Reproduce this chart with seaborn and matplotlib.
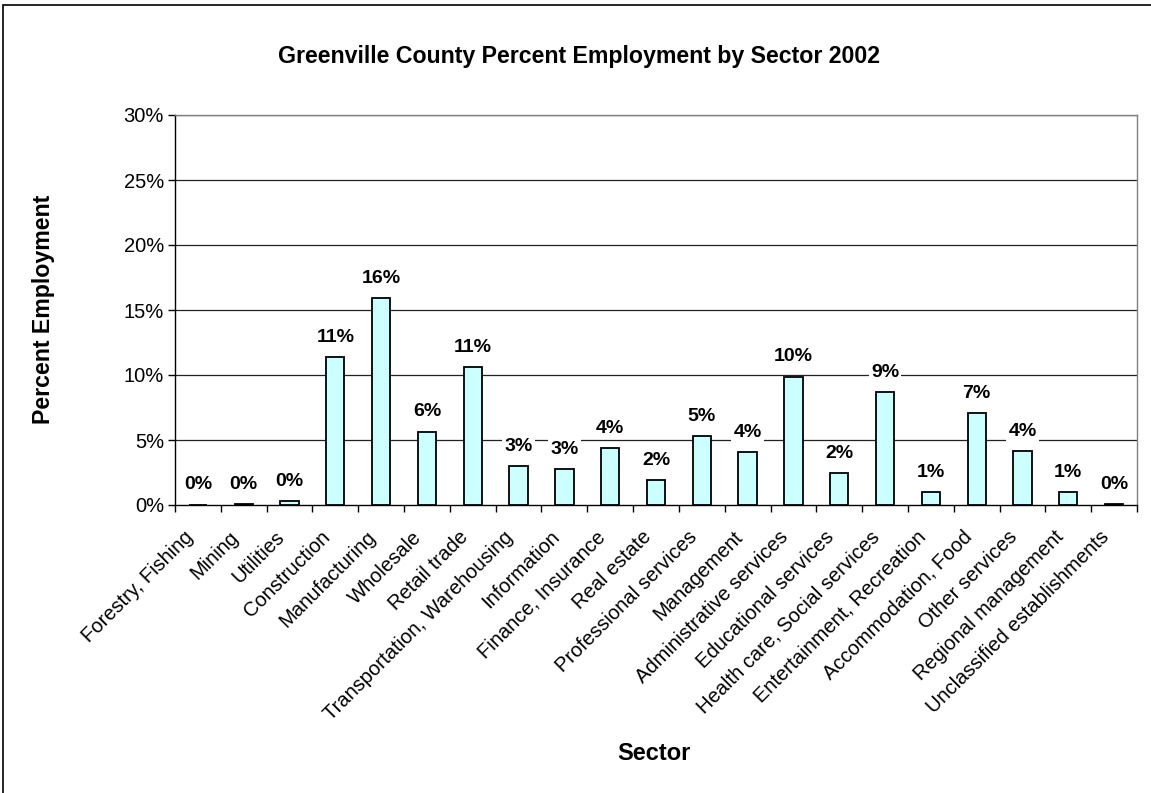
import matplotlib
matplotlib.use("Agg")
import matplotlib.pyplot as plt
import matplotlib.transforms as mtransforms
import seaborn as sns
from matplotlib.patches import Rectangle

sectors = [
    "Forestry, Fishing", "Mining", "Utilities", "Construction", "Manufacturing",
    "Wholesale", "Retail trade", "Transportation, Warehousing", "Information",
    "Finance, Insurance", "Real estate", "Professional services", "Management",
    "Administrative services", "Educational services", "Health care, Social services",
    "Entertainment, Recreation", "Accommodation, Food", "Other services",
    "Regional management", "Unclassified establishments",
]
percent = [0.03, 0.04, 0.28, 11.4, 15.9, 5.65, 10.6, 2.97, 2.78, 4.35, 1.9,
           5.28, 4.07, 9.88, 2.47, 8.68, 1.0, 7.05, 4.18, 1.0, 0.04]
y_ticks = [0, 5, 10, 15, 20, 25, 30]

sns.set_theme(style="white")
plt.rcParams["font.family"] = ["Liberation Sans", "DejaVu Sans"]
plt.rcParams.update({"text.color": "black", "axes.labelcolor": "black",
                     "xtick.color": "black", "ytick.color": "black"})

fig = plt.figure(figsize=(11.51, 7.93), dpi=100)
ax = fig.add_axes([175 / 1151, 1 - 505 / 793, 962 / 1151, 390 / 793])

# chart border
fig.patches.append(Rectangle((3 / 1151, -0.02), 1.05, 1 - 5 / 793 + 0.02,
                             transform=fig.transFigure, fill=False,
                             edgecolor="black", linewidth=1.2, zorder=0))

sns.barplot(x=sectors, y=percent, color="#CCFFFF", edgecolor="black",
            linewidth=1.3, width=0.4, saturation=1, ax=ax, zorder=3)

ax.set_xlim(-0.5, len(sectors) - 0.5)
ax.set_ylim(0, 30)
ax.set_yticks(y_ticks)
ax.set_yticklabels([f"{t}%" for t in y_ticks], fontsize=14.5)
for t in y_ticks[1:]:
    ax.axhline(t, color="#222222", linewidth=0.9, zorder=1)

# category ticks sit between the bars
ax.set_xticks(range(len(sectors)))
ax.set_xticklabels(sectors, rotation=45, ha="right", va="center",
                   rotation_mode="anchor", fontsize=14.5)
ax.tick_params(axis="x", which="major", length=0, pad=21)
shift = mtransforms.ScaledTranslation(-8 / 100, 0, fig.dpi_scale_trans)
for lbl in ax.get_xticklabels():
    lbl.set_transform(lbl.get_transform() + shift)
ax.set_xticks([i - 0.5 for i in range(len(sectors) + 1)], minor=True)
ax.tick_params(axis="x", which="minor", length=5, width=1, color="black",
               direction="out", bottom=True)
ax.tick_params(axis="y", length=5, width=1, color="black", direction="out",
               left=True, pad=3)

for side in ["top", "right"]:
    ax.spines[side].set_visible(True)
    ax.spines[side].set_color("#808080")
    ax.spines[side].set_linewidth(1)
for side in ["left", "bottom"]:
    ax.spines[side].set_color("black")
    ax.spines[side].set_linewidth(1)

for i, v in enumerate(percent):
    ax.annotate(f"{round(v):.0f}%", (i, v), xytext=(0, 8),
                textcoords="offset points", ha="center", va="bottom",
                fontsize=14, fontweight="bold", zorder=5,
                bbox=dict(facecolor="white", edgecolor="none", pad=1.5))

ax.set_xlabel("")
ax.set_ylabel("")
fig.text(579 / 1151, 1 - 57 / 793, "Greenville County Percent Employment by Sector 2002",
         ha="center", va="center", fontsize=16.7, fontweight="bold")
fig.text(654 / 1151, 1 - 753 / 793, "Sector", ha="center", va="center",
         fontsize=17, fontweight="bold")
fig.text(44 / 1151, 1 - 309 / 793, "Percent Employment", ha="center",
         va="center", rotation=90, fontsize=16.7, fontweight="bold")

fig.savefig("out.png", dpi=100)
